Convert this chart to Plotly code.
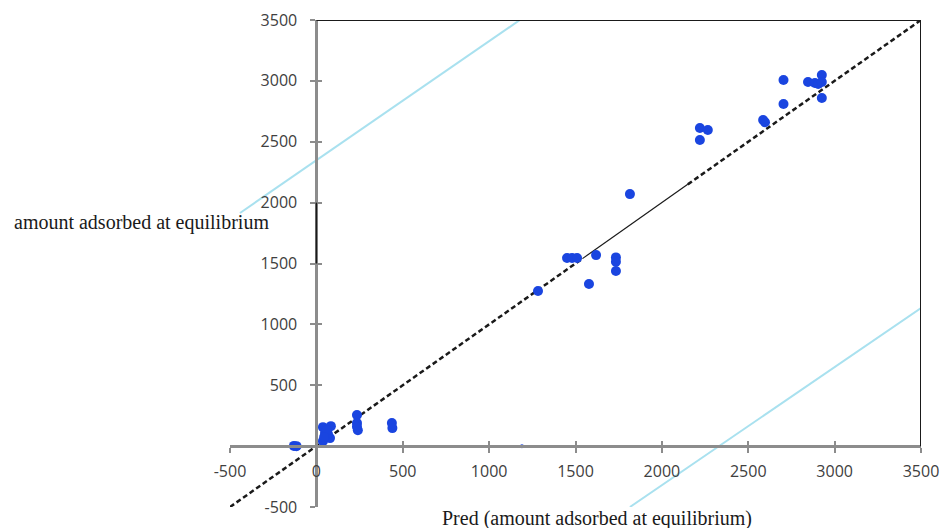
import plotly.graph_objects as go

# Observed vs predicted values (amount adsorbed at equilibrium)
pred = [-130, -115, 38, 84, 50, 79, 38, 67, 60, 45,
        235, 235, 240, 235, 437, 440,
        1283, 1451, 1480, 1509, 1619, 1578, 1734, 1734, 1734, 1815,
        2220, 2266, 2220, 2586, 2597, 2704, 2704,
        2846, 2886, 2905, 2926, 2926, 2926]
actual = [2, 0, 156, 164, 107, 66, 41, 99, 130, 75,
          255, 189, 131, 160, 189, 148,
          1274, 1545, 1545, 1545, 1569, 1331, 1550, 1515, 1438, 2070,
          2613, 2596, 2514, 2679, 2660, 3007, 2810,
          2991, 2983, 2975, 3048, 2991, 2860]
# partially hidden point near the x axis
hidden_pred = [1190]
hidden_actual = [0]

# 1:1 reference line pieces (dashed / thin solid / dashed)
ref_dash1_x = [-500, 1540]
ref_solid_x = [1540, 2150]
ref_dash2_x = [2150, 3500]

# light blue band lines
upper_x = [-442, 1178]
upper_y = [1915, 3500]
lower_x = [1815, 3500]
lower_y = [-500, 1134]

xticks = [-500, 0, 500, 1000, 1500, 2000, 2500, 3000, 3500]
xticklabels = ["-500", "0", "500", "1000", "1500", "2000", "2500", "3000", "3500"]
yticks = [-500, 500, 1000, 1500, 2000, 2500, 3000, 3500]
yticklabels = ["-500", "500", "1000", "1500", "2000", "2500", "3000", "3500"]
rng = [-500, 3500]

fig = go.Figure()

fig.add_trace(go.Scatter(x=upper_x, y=upper_y, mode="lines",
                         line=dict(color="#a9e1ef", width=2), showlegend=False))
fig.add_trace(go.Scatter(x=lower_x, y=lower_y, mode="lines",
                         line=dict(color="#a9e1ef", width=2), showlegend=False))
fig.add_trace(go.Scatter(x=ref_dash1_x, y=ref_dash1_x, mode="lines",
                         line=dict(color="#1a1a1a", width=2.5, dash="5px,3px"), showlegend=False))
fig.add_trace(go.Scatter(x=ref_solid_x, y=ref_solid_x, mode="lines",
                         line=dict(color="#1a1a1a", width=1.2), showlegend=False))
fig.add_trace(go.Scatter(x=ref_dash2_x, y=ref_dash2_x, mode="lines",
                         line=dict(color="#1a1a1a", width=2.5, dash="5px,3px"), showlegend=False))
fig.add_trace(go.Scatter(x=pred, y=actual, mode="markers",
                         marker=dict(color="#1a45e0", size=10), showlegend=False))
fig.add_trace(go.Scatter(x=hidden_pred, y=hidden_actual, mode="markers",
                         marker=dict(color="#1a45e0", size=4), showlegend=False))
# empty trace to create the overlay axes used for the inner half of cross ticks
fig.add_trace(go.Scatter(x=[], y=[], xaxis="x2", yaxis="y2", showlegend=False))

axis_col = "#8c8c8c"
tickfont = dict(family="Open Sans", size=16, color="#404040")
zero_frac = 500 / 4000

fig.update_layout(
    width=944, height=528,
    margin=dict(l=230, r=23, t=20, b=21, autoexpand=False),
    paper_bgcolor="white", plot_bgcolor="white",
    hovermode=False,
    xaxis=dict(range=rng, anchor="free", position=zero_frac, automargin=False,
               showgrid=False, zeroline=False,
               showline=True, linecolor=axis_col, linewidth=3,
               tickvals=xticks, ticktext=xticklabels,
               ticks="outside", ticklen=5, tickwidth=1.5,
               tickcolor=axis_col, tickfont=tickfont, ticklabelstandoff=5),
    yaxis=dict(range=rng, anchor="free", position=zero_frac, automargin=False,
               showgrid=False, zeroline=False,
               showline=True, linecolor=axis_col, linewidth=3,
               tickvals=yticks, ticktext=yticklabels,
               ticks="outside", ticklen=5, tickwidth=1.5,
               tickcolor=axis_col, tickfont=tickfont, ticklabelstandoff=10),
    xaxis2=dict(range=rng, overlaying="x", anchor="free", position=zero_frac,
                automargin=False,
                showgrid=False, zeroline=False, showline=False,
                tickvals=xticks, ticks="inside", ticklen=5, tickwidth=1.5,
                tickcolor=axis_col, showticklabels=False),
    yaxis2=dict(range=rng, overlaying="y", anchor="free", position=zero_frac,
                automargin=False,
                showgrid=False, zeroline=False, showline=False,
                tickvals=yticks, ticks="inside", ticklen=5, tickwidth=1.5,
                tickcolor=axis_col, showticklabels=False),
    shapes=[
        dict(type="line", xref="x", yref="y", x0=0, x1=3500, y0=3500, y1=3500,
             line=dict(color="#1a1a1a", width=2)),
        dict(type="line", xref="x", yref="y", x0=3500, x1=3500, y0=0, y1=3500,
             line=dict(color="#1a1a1a", width=2)),
        dict(type="line", xref="x", yref="y", x0=0, x1=0, y0=1500, y1=2000,
             line=dict(color="#1a1a1a", width=1.5)),
    ],
    annotations=[
        dict(text="amount adsorbed at equilibrium", xref="paper", yref="paper",
             x=-0.3155, y=0.585, xanchor="left", yanchor="middle", showarrow=False,
             font=dict(family="Liberation Serif", size=20, color="#1a1a1a")),
        dict(text="Pred (amount adsorbed at equilibrium)", xref="paper", yref="paper",
             x=0.531, y=-0.0226, xanchor="center", yanchor="middle", showarrow=False,
             font=dict(family="Liberation Serif", size=20, color="#1a1a1a")),
    ],
)

fig.write_html("out.html",
               config={"displayModeBar": False},
               post_script="document.body.style.margin='0px';"
                           "document.body.style.overflow='hidden';")
